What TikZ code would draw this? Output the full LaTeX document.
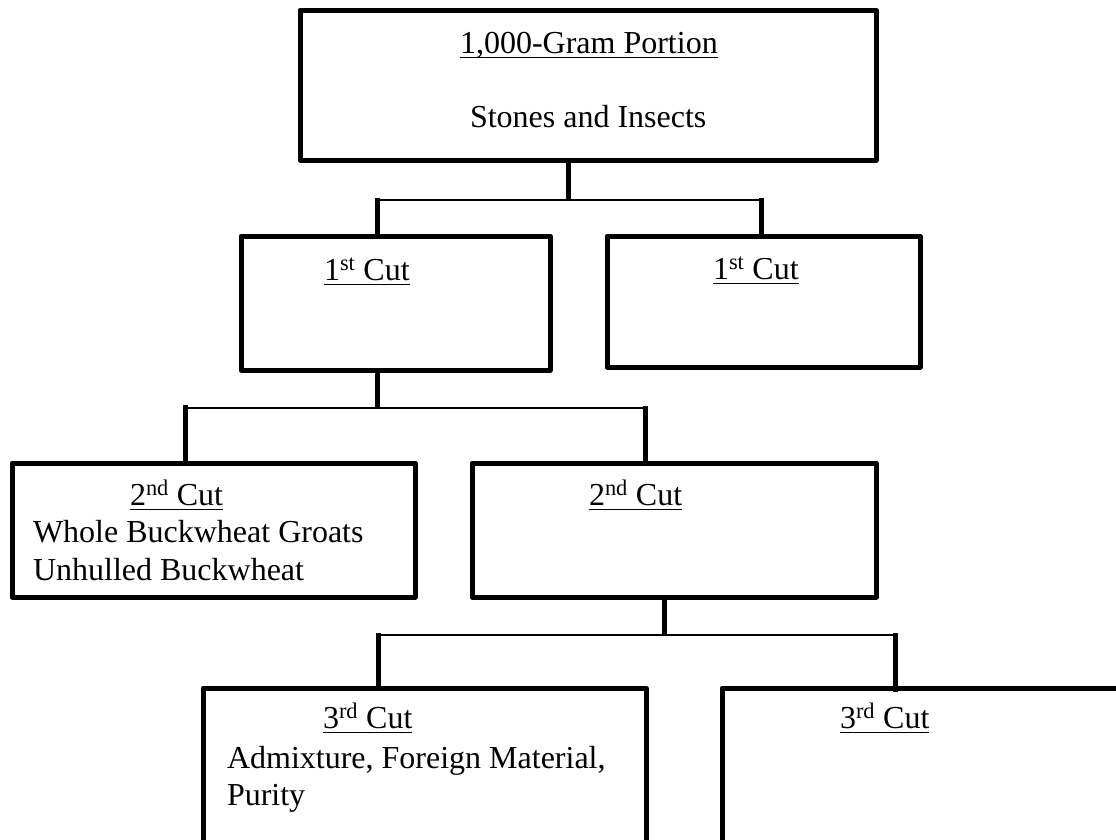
\documentclass[tikz,border=0pt]{standalone}
\usepackage{fontspec}
\setmainfont{Liberation Serif}
\begin{document}
\begin{tikzpicture}[x=1pt,y=-1pt,
  box/.style={draw, line width=5pt, line join=round, inner sep=0pt, outer sep=0pt},
  conn/.style={line width=5pt},
  bar/.style={line width=1.8pt},
  lbl/.style={anchor=base west, inner sep=0pt, outer sep=0pt, font=\fontsize{32}{38}\selectfont},
  uln/.style={line width=1.6pt}]
\useasboundingbox (0,0) rectangle (1116,839);
\clip (0,0) rectangle (1116,839);
\fill[white] (0,0) rectangle (1116,839);

% boxes
\node[box, minimum width=576pt, minimum height=150pt] (top) at (588,85) {};
\node[box, minimum width=309pt, minimum height=134pt] (c1l) at (395.5,303) {};
\node[box, minimum width=313pt, minimum height=131pt] (c1r) at (763.5,301.5) {};
\node[box, minimum width=403pt, minimum height=134pt] (c2l) at (213.5,530) {};
\node[box, minimum width=404pt, minimum height=134pt] (c2r) at (674,530) {};
\node[box, minimum width=443pt, minimum height=212pt] (c3l) at (424.5,794) {};
\node[box, minimum width=478pt, minimum height=212pt] (c3r) at (961,794) {};

% texts
\node[lbl] (t0a) at (460,53) {1,000-Gram Portion};
\node[lbl] (t0b) at (470,127) {Stones and Insects};
\node[lbl] (t1l) at (324,280) {1\textsuperscript{st} Cut};
\node[lbl] (t1r) at (713,279) {1\textsuperscript{st} Cut};
\node[lbl] (t2l) at (130,505) {2\textsuperscript{nd} Cut};
\node[lbl] (t2la) at (33,542) {Whole Buckwheat Groats};
\node[lbl] (t2lb) at (33,580) {Unhulled Buckwheat};
\node[lbl] (t2r) at (589,505) {2\textsuperscript{nd} Cut};
\node[lbl] (t3l) at (323,728) {3\textsuperscript{rd} Cut};
\node[lbl] (t3la) at (227,768) {Admixture, Foreign Material,};
\node[lbl] (t3lb) at (227,805) {Purity};
\node[lbl] (t3r) at (840,728) {3\textsuperscript{rd} Cut};

% underlines
\foreach \t in {t0a,t1l,t1r,t2l,t2r,t3l,t3r}
  \draw[uln] ([yshift=-4.5pt]\t.base west) -- ([yshift=-4.5pt]\t.base east);

% connectors level 1
\coordinate (a0) at (568,200);
\coordinate (a1) at (377,200);
\coordinate (a2) at (761,200);
\draw[conn] (top.south -| a0) -- (a0);
\draw[bar] (a1) -- (a2);
\draw[conn] ([yshift=2pt]a1) -- (a1 |- c1l.north);
\draw[conn] ([yshift=2pt]a2) -- (a2 |- c1r.north);

% connectors level 2
\coordinate (b0) at (377,408);
\coordinate (b1) at (185,408);
\coordinate (b2) at (645,408);
\draw[conn] (c1l.south -| b0) -- (b0);
\draw[bar] (b1) -- (b2);
\draw[conn] ([yshift=3pt]b1) -- (b1 |- c2l.north);
\draw[conn] ([yshift=2pt]b2) -- (b2 |- c2r.north);

% connectors level 3
\coordinate (d0) at (664,635);
\coordinate (d1) at (378,635);
\coordinate (d2) at (895,635);
\draw[conn] (c2r.south -| d0) -- (d0);
\draw[bar] (d1) -- (d2);
\draw[conn] ([yshift=2pt]d1) -- (d1 |- c3l.north);
\draw[conn] ([yshift=2pt]d2) -- ([yshift=-4pt]d2 |- c3r.north);
\end{tikzpicture}
\end{document}
